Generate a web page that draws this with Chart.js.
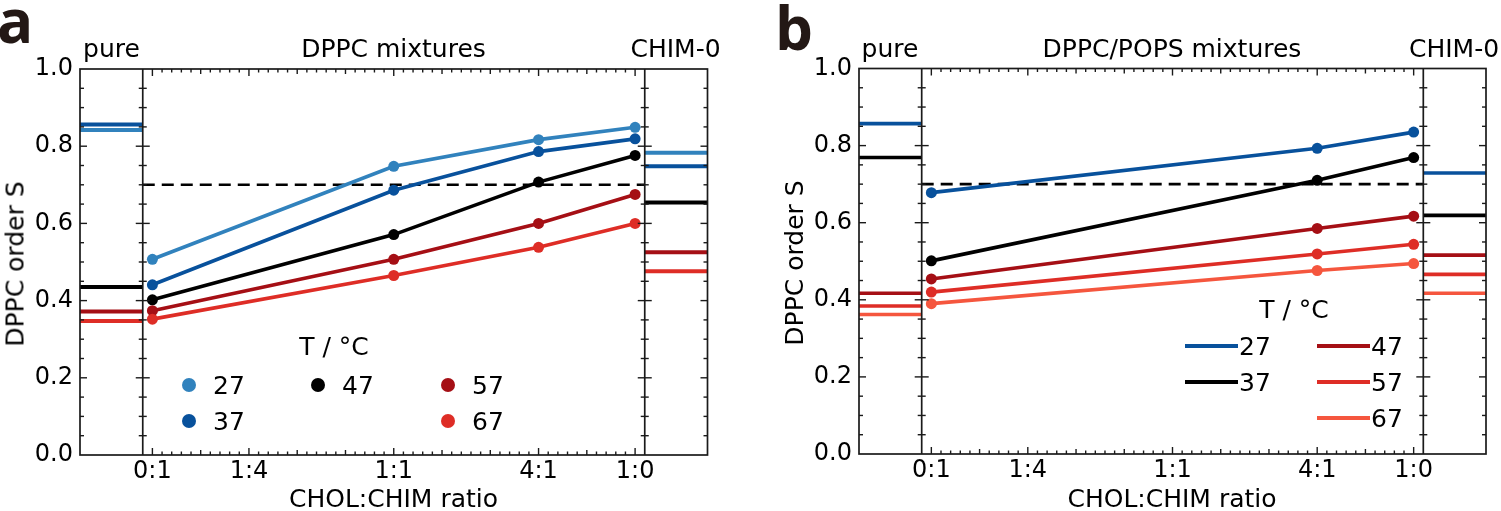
<!DOCTYPE html>
<html>
<head>
<meta charset="utf-8">
<script src="https://cdn.jsdelivr.net/npm/chart.js@4.4.0/dist/chart.umd.min.js"></script>
<style>
  body { margin: 0; width: 1501px; height: 511px; overflow: hidden; position: relative; background: #fff;
         font-family: 'DejaVu Sans', sans-serif; color: #000; }
  canvas { position: absolute; top: 0; }
  .t { position: absolute; font-size: 25px; line-height: 25px; white-space: nowrap; }
  .c { transform: translateX(-50%); }
  .letter { position: absolute; font-family: 'Open Sans', sans-serif; font-weight: 700; font-size: 60px;
            line-height: 60px; color: #231815; }
  .ylab { position: absolute; font-size: 25px; line-height: 25px; white-space: nowrap;
          transform: translate(-50%, -50%) rotate(-90deg); }
  .dot { position: absolute; width: 14px; height: 14px; border-radius: 50%; transform: translate(-50%, -50%); }
  .seg { position: absolute; height: 4px; transform: translateY(-50%); }
</style>
</head>
<body>
<canvas id="chart-a" width="750" height="511" style="left:0"></canvas>
<canvas id="chart-b" width="741" height="511" style="left:760px"></canvas>
<div id="text"></div>
<script>
// ---- data ----
const TEMPS = ['27', '37', '47', '57', '67'];
const X_TICKS = [0, 0.2, 0.5, 0.8, 1];
const X_TICK_LABELS = ['0:1', '1:4', '1:1', '4:1', '1:0'];
const Y_TICKS = [0, 0.2, 0.4, 0.6, 0.8, 1.0];
const THRESHOLD = 0.7;

// panel a: DPPC mixtures
const COLORS_A = ['#3182bd', '#08519c', '#000000', '#a50f15', '#de2d26'];
const RATIO_A = [0, 0.5, 0.8, 1];
const S_27_A = [0.507, 0.748, 0.817, 0.849];
const S_37_A = [0.441, 0.686, 0.786, 0.819];
const S_47_A = [0.402, 0.571, 0.707, 0.776];
const S_57_A = [0.374, 0.507, 0.600, 0.675];
const S_67_A = [0.352, 0.465, 0.538, 0.600];
const PURE_A = [0.842, 0.856, 0.435, 0.372, 0.347];
const CHIM_A = [0.783, 0.748, 0.654, 0.525, 0.476];

// panel b: DPPC/POPS mixtures
const COLORS_B = ['#08519c', '#000000', '#a50f15', '#de2d26', '#f5563e'];
const RATIO_B = [0, 0.8, 1];
const S_27_B = [0.678, 0.793, 0.835];
const S_37_B = [0.501, 0.710, 0.769];
const S_47_B = [0.454, 0.585, 0.617];
const S_57_B = [0.420, 0.519, 0.544];
const S_67_B = [0.390, 0.476, 0.494];
const PURE_B = [0.857, 0.769, 0.417, 0.384, 0.362];
const CHIM_B = [0.729, 0.619, 0.516, 0.466, 0.417];

// x extents of the three sub-panels on the shared axis
const PURE_X = [-0.15, -0.02];
const MAIN_X = [-0.02, 1.02];
const CHIM_X = [1.02, 1.15];

Chart.defaults.font.family = "'DejaVu Sans', sans-serif";
Chart.defaults.color = '#000';

// frame, dividers and inward ticks (matplotlib look)
const framePlugin = {
  id: 'frame',
  afterDatasetsDraw(chart) {
    const { ctx, chartArea: a, scales: { x, y } } = chart;
    const xl = x.getPixelForValue(MAIN_X[0]);
    const xr = x.getPixelForValue(MAIN_X[1]);
    const line = (x1, y1, x2, y2) => { ctx.beginPath(); ctx.moveTo(x1, y1); ctx.lineTo(x2, y2); ctx.stroke(); };
    ctx.save();
    ctx.strokeStyle = '#1a1a1a';
    ctx.lineWidth = 1.7;
    ctx.strokeRect(a.left, a.top, a.right - a.left, a.bottom - a.top);
    line(xl, a.top, xl, a.bottom);
    line(xr, a.top, xr, a.bottom);
    ctx.lineWidth = 1.4;
    for (let i = 1; i < 20; i++) {
      const py = y.getPixelForValue(i / 20);
      const len = i % 4 === 0 ? 7 : 4;
      [[a.left, 1], [xl, -1], [xl, 1], [xr, -1], [xr, 1], [a.right, -1]].forEach(([ex, d]) => line(ex, py, ex + d * len, py));
    }
    for (let i = 0; i <= 50; i++) {
      const v = i / 50;
      const px = x.getPixelForValue(v);
      const len = X_TICKS.includes(v) ? 7 : (i % 5 === 0 ? 5 : 3.5);
      line(px, a.top, px, a.top + len);
      line(px, a.bottom, px, a.bottom - len);
    }
    ctx.restore();
  },
};

function segment(x0, x1, v, color, w) {
  return {
    data: [{ x: x0, y: v }, { x: x1, y: v }],
    borderColor: color, borderWidth: w, pointRadius: 0, clip: false, order: 20,
  };
}

function buildDatasets(ratio, series, pure, chim, colors, segW) {
  const sets = [];
  sets.push({
    data: [{ x: MAIN_X[0], y: THRESHOLD }, { x: MAIN_X[1], y: THRESHOLD }],
    borderColor: '#000', borderWidth: 2.6, borderDash: [12, 7], pointRadius: 0, order: 30,
  });
  series.forEach((vals, i) => {
    sets.push(segment(PURE_X[0], PURE_X[1], pure[i], colors[i], segW));
    sets.push(segment(CHIM_X[0], CHIM_X[1], chim[i], colors[i], segW));
    sets.push({
      label: TEMPS[i],
      data: ratio.map((r, j) => ({ x: r, y: vals[j] })),
      borderColor: colors[i], backgroundColor: colors[i],
      borderWidth: 3.6, pointRadius: 5.5, pointBorderWidth: 0, pointBackgroundColor: colors[i],
      clip: false, order: -i,
    });
  });
  return sets;
}

function makeChart(id, datasets, axisW, axisH, pad) {
  return new Chart(document.getElementById(id), {
    type: 'line',
    data: { datasets },
    plugins: [framePlugin],
    options: {
      responsive: false,
      animation: false,
      events: [],
      layout: { padding: pad },
      plugins: { legend: { display: false }, tooltip: { enabled: false } },
      scales: {
        x: {
          type: 'linear', min: PURE_X[0], max: CHIM_X[1],
          afterBuildTicks: s => { s.ticks = X_TICKS.map(v => ({ value: v })); },
          afterFit: s => { s.height = axisH; },
          grid: { display: false, drawTicks: false },
          border: { display: false },
          ticks: { callback: (v, i) => X_TICK_LABELS[i], padding: 2, autoSkip: false, maxRotation: 0,
                   font: { size: 24 }, color: '#000' },
        },
        y: {
          min: 0, max: 1,
          afterBuildTicks: s => { s.ticks = Y_TICKS.map(v => ({ value: v })); },
          afterFit: s => { s.width = axisW; },
          grid: { display: false, drawTicks: false },
          border: { display: false },
          ticks: { callback: v => v.toFixed(1), padding: 7, font: { size: 24 }, color: '#000' },
        },
      },
    },
  });
}

makeChart('chart-a',
  buildDatasets(RATIO_A, [S_27_A, S_37_A, S_47_A, S_57_A, S_67_A], PURE_A, CHIM_A, COLORS_A, 4),
  80, 56, { left: 0, top: 69, right: 42.5, bottom: 0 });
makeChart('chart-b',
  buildDatasets(RATIO_B, [S_27_B, S_37_B, S_47_B, S_57_B, S_67_B], PURE_B, CHIM_B, COLORS_B, 3.6),
  99, 57, { left: 0, top: 68.5, right: 15, bottom: 0 });

// ---- text, titles and legends ----
const box = document.getElementById('text');
function addText(txt, left, top, cls) {
  const d = document.createElement('div');
  d.className = cls;
  d.textContent = txt;
  d.style.left = left + 'px';
  d.style.top = top + 'px';
  box.appendChild(d);
  return d;
}

addText('a', -3, -10, 'letter');
addText('b', 775, -3, 'letter');

addText('pure', 111.5, 36, 't c');
addText('DPPC mixtures', 393.5, 36, 't c');
addText('CHIM-0', 675.5, 36, 't c');
addText('pure', 890, 36, 't c');
addText('DPPC/POPS mixtures', 1172, 36, 't c');
addText('CHIM-0', 1454, 36, 't c');

addText('CHOL:CHIM ratio', 393.5, 486, 't c');
addText('CHOL:CHIM ratio', 1172, 486, 't c');
addText('DPPC order S', 14.5, 264, 'ylab');
addText('DPPC order S', 793.5, 263, 'ylab');

// legend a: markers
addText('T / °C', 334, 334, 't c');
const LEG_A = [[189, 385], [189, 421], [318, 385], [448, 385], [448, 421]];
TEMPS.forEach((t, i) => {
  const [cx, cy] = LEG_A[i];
  const dot = addText('', cx, cy, 'dot');
  dot.style.background = COLORS_A[i];
  addText(t, cx + 24, cy - 12.5, 't');
});

// legend b: line segments
addText('T / °C', 1294, 296.5, 't c');
const LEG_B = [[1185, 346], [1185, 382], [1317, 346], [1317, 382], [1317, 418]];
TEMPS.forEach((t, i) => {
  const [x0, cy] = LEG_B[i];
  const seg = addText('', x0, cy, 'seg');
  seg.style.width = '53px';
  seg.style.background = COLORS_B[i];
  addText(t, x0 + 54, cy - 12.5, 't');
});
</script>
</body>
</html>
